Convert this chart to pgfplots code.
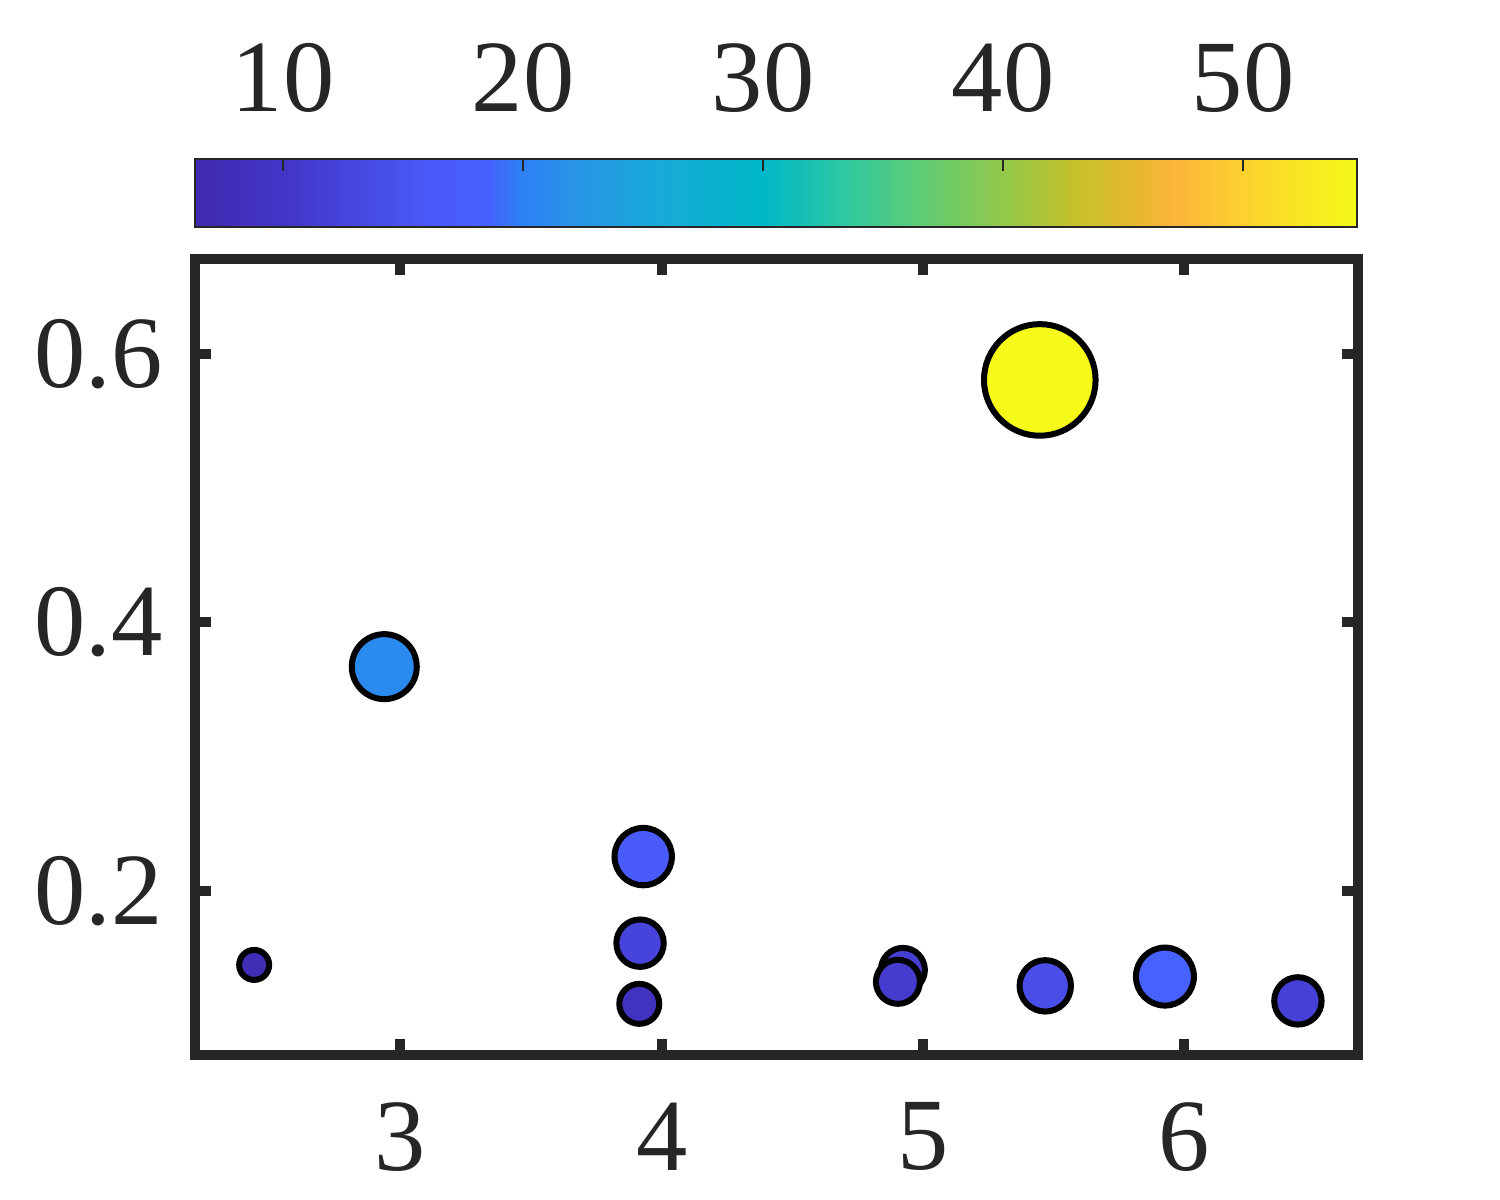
\documentclass[border=0pt]{standalone}
\usepackage{pgfplots}
\pgfplotsset{compat=1.18}
\usepackage{fontspec}
\setmainfont{Liberation Serif}
\newfontfamily\tickfont{Liberation Serif}
\definecolor{axgray}{HTML}{262626}
\pgfplotsset{colormap={mparula}{
 rgb255(0pt)=(63,42,175)
 rgb255(8pt)=(67,54,200)
 rgb255(20pt)=(74,90,248)
 rgb255(25pt)=(72,96,255)
 rgb255(28pt)=(46,128,245)
 rgb255(33pt)=(40,150,230)
 rgb255(40pt)=(24,170,216)
 rgb255(49pt)=(0,184,200)
 rgb255(56pt)=(48,200,160)
 rgb255(62pt)=(92,204,120)
 rgb255(70pt)=(150,200,72)
 rgb255(76pt)=(200,192,42)
 rgb255(81pt)=(230,184,48)
 rgb255(84pt)=(251,180,60)
 rgb255(90pt)=(253,208,48)
 rgb255(100pt)=(245,250,24)
}}
\begin{document}
\begin{tikzpicture}
\useasboundingbox (-39pt,-29pt) rectangle (261pt,211pt);
\begin{axis}[
 at={(0pt,0pt)}, anchor=south west,
 scale only axis, width=232.6pt, height=159.2pt,
 xmin=2.2135, xmax=6.665, ymin=0.0778, ymax=0.6708,
 xtick={3,4,5,6}, ytick={0.2,0.4,0.6},
 xticklabels={3,4,5,6},
 yticklabels={0.2,0.4,0.6},
 tick align=inside, tick pos=both,
 major tick length=3.2pt,
 tick style={line width=2pt, color=axgray},
 axis line style={line width=2pt, color=axgray},
 tick label style={font=\tickfont\fontsize{20.5}{24}\selectfont, color=axgray},
 xticklabel style={yshift=-6pt},
 yticklabel style={xshift=-3pt},
 /pgf/number format/assume math mode=true,
 colormap name=mparula,
 point meta min=6.33, point meta max=54.75,
 colorbar horizontal,
 colorbar style={
   at={(parent axis.north west)}, anchor=south west, yshift=15pt,
   scale only axis, width=232.4pt, height=13.6pt,
   xtick={10,20,30,40,50},
   xticklabels={10,20,30,40,50},
   xtick pos=right, xticklabel pos=right,
   tick align=inside, major tick length=2.4pt,
   tick style={line width=0.4pt, color=axgray},
   axis line style={line width=0.4pt, color=axgray},
   xticklabel style={font=\tickfont\fontsize{20.5}{24}\selectfont, color=axgray, yshift=5.6pt},
   /pgf/number format/assume math mode=true,
 },
]
\addplot[scatter, only marks, mark=*, point meta=explicit,
  scatter/use mapped color={draw=black, fill=mapped color},
  mark options={line width=1.2pt},
  visualization depends on={\thisrow{s} \as \msize},
  scatter/@pre marker code/.append style={/tikz/mark size=\msize pt}]
table[x=x, y=y, meta=c] {
x y c s
2.440 0.1449 7.5 3.0
2.938 0.3671 21 6.5
3.929 0.2256 17 5.74
3.917 0.1611 12.5 4.74
3.914 0.1159 9 4.0
4.923 0.1412 11.5 4.4
4.904 0.1323 11 4.4
5.447 0.5807 54.75 11.16
5.468 0.1293 14 5.14
5.926 0.1362 18.5 5.8
6.435 0.1181 12 4.74
};
\end{axis}
\end{tikzpicture}
\end{document}
